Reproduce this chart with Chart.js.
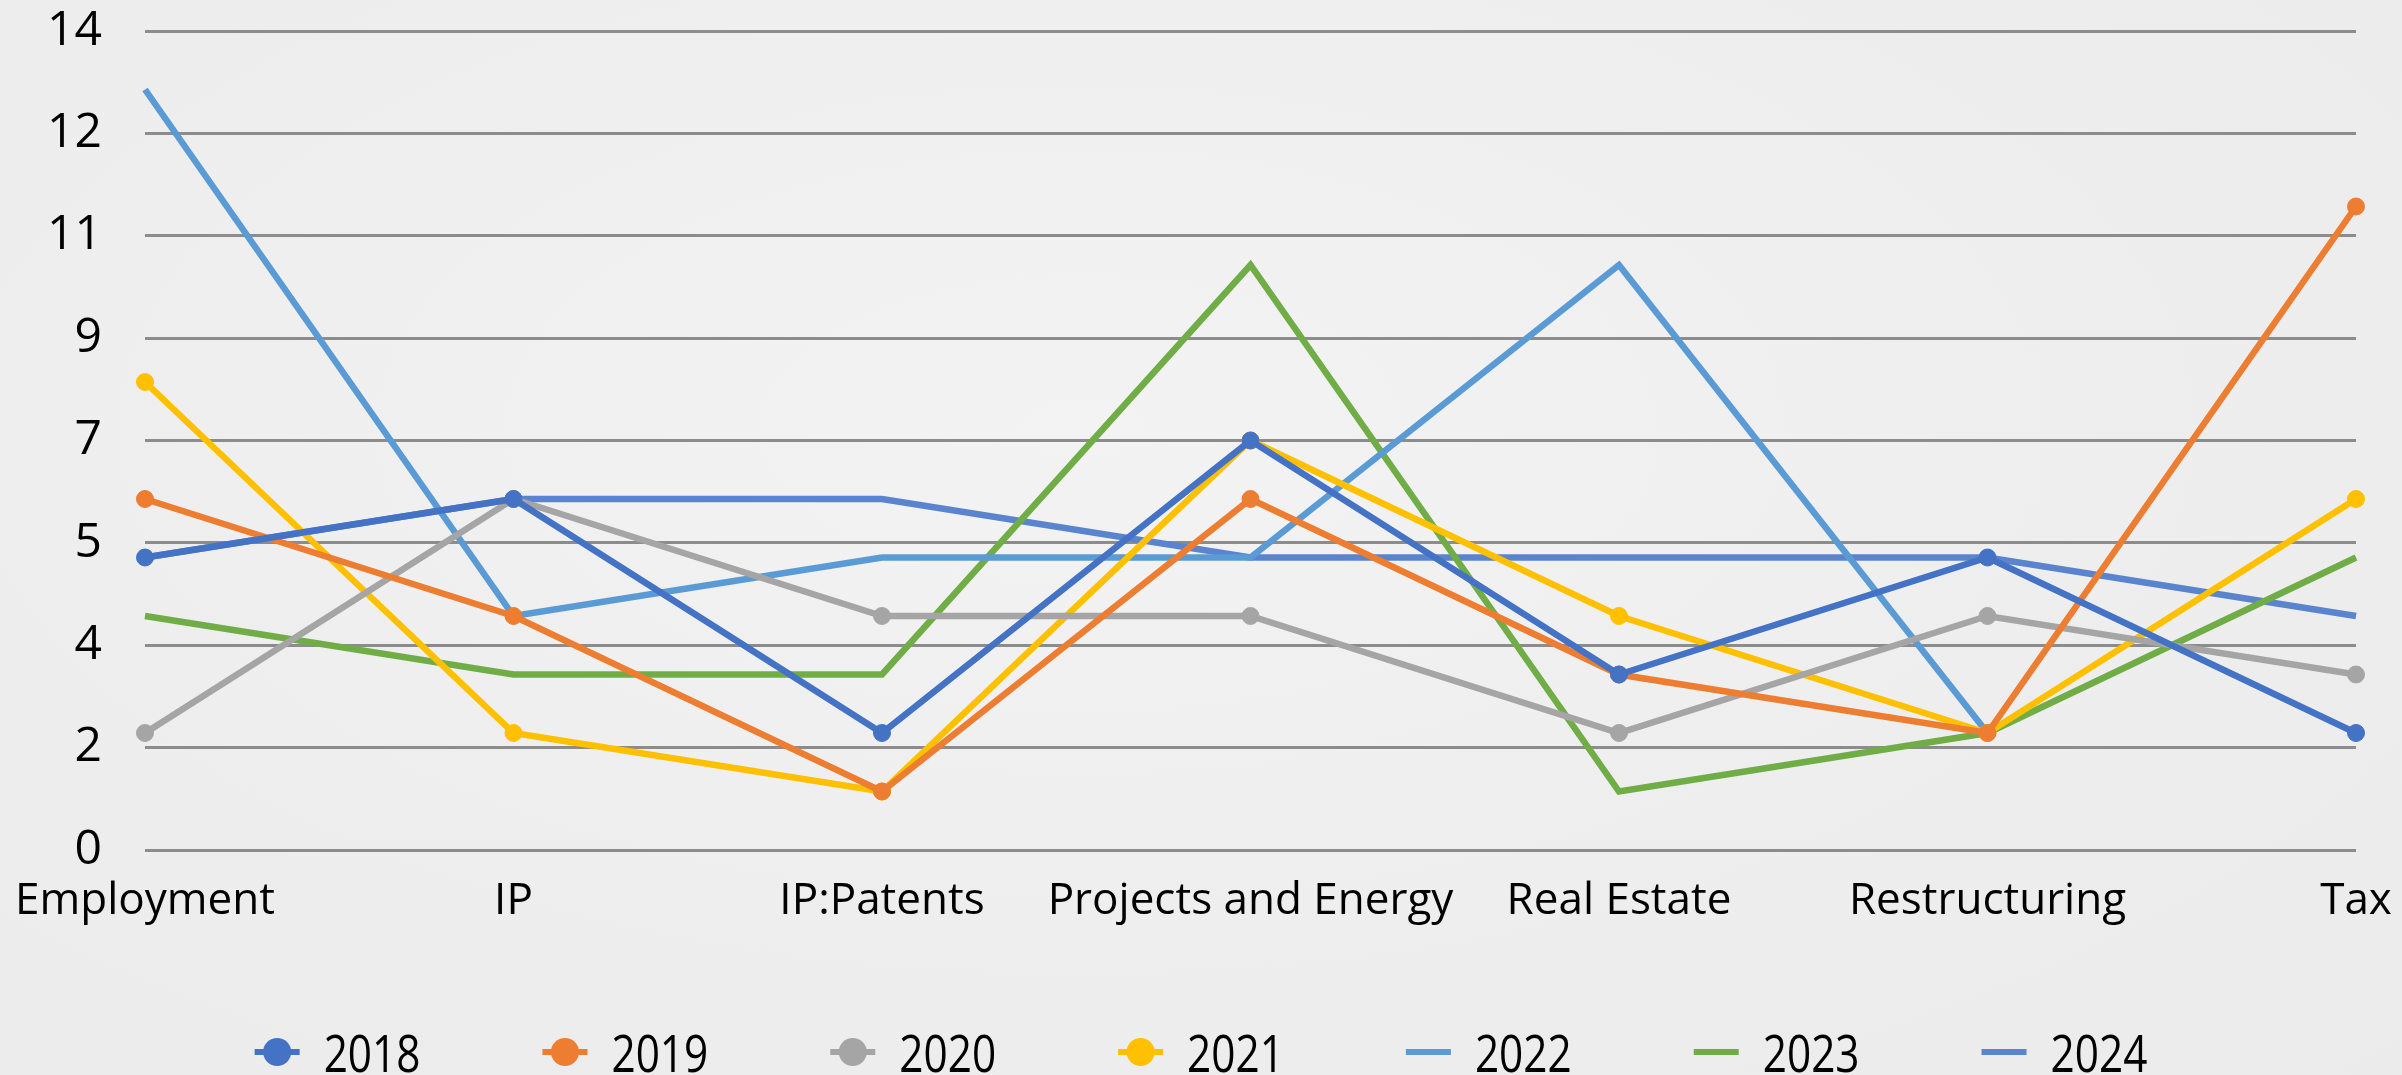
<!DOCTYPE html>
<html>
<head>
<meta charset="utf-8">
<script src="https://cdn.jsdelivr.net/npm/chart.js@4.4.1/dist/chart.umd.min.js"></script>
<style>
  html, body { margin: 0; padding: 0; }
  body {
    width: 2402px; height: 1075px; overflow: hidden;
    background: radial-gradient(ellipse at 45% 40%, #f3f3f3 0%, #eeeeee 55%, #ebebeb 100%);
  }
  canvas { display: block; }
</style>
</head>
<body>
<canvas id="chart" width="2402" height="1075"></canvas>
<script>
// categories along the x axis
const categories = ["Employment", "IP", "IP:Patents", "Projects and Energy", "Real Estate", "Restructuring", "Tax"];

// one array per year
const y2018 = [5, 6, 2, 7, 3, 5, 2];
const y2019 = [6, 4, 1, 6, 3, 2, 11];
const y2020 = [2, 6, 4, 4, 2, 4, 3];
const y2021 = [8, 2, 1, 7, 4, 2, 6];
const y2022 = [13, 4, 5, 5, 10, 2, null];
const y2023 = [4, 3, 3, 10, 1, 2, 5];
const y2024 = [5, 6, 6, 5, 5, 5, 4];

// y axis runs 0..14 in eight steps, labels shown rounded
const yMax = 14;
const yStep = 1.75;

const FONT = "'Open Sans', Lato, sans-serif";

function series(label, data, color, markers) {
    return {
        label: label,
        data: data,
        borderColor: color,
        backgroundColor: color,
        borderWidth: 6.5,
        pointRadius: markers ? 8.5 : 0,
        pointHoverRadius: markers ? 8.5 : 0,
        pointBorderWidth: 1,
        pointBackgroundColor: color,
        pointBorderColor: color,
        tension: 0,
        spanGaps: false,
    };
}

// legend drawn by hand: short line with a dot, like the office legend
const bottomLegend = {
    id: "bottomLegend",
    afterDraw(chart) {
        const ctx = chart.ctx;
        const sets = chart.data.datasets;
        const lineW = 45, gapText = 24, gapItem = 122;
        const squeeze = 0.83;           // legend digits are narrower than the axis font
        const midY = chart.height - 23;
        const baseY = chart.height - 3;
        ctx.save();
        ctx.font = "51px " + FONT;
        const widths = sets.map(ds => lineW + gapText + ctx.measureText(ds.label).width * squeeze);
        const total = widths.reduce((a, b) => a + b, 0) + gapItem * (sets.length - 1);
        let x = (chart.width - total) / 2;
        sets.forEach((ds, i) => {
            ctx.strokeStyle = ds.borderColor;
            ctx.lineWidth = 6;
            ctx.beginPath();
            ctx.moveTo(x, midY);
            ctx.lineTo(x + lineW, midY);
            ctx.stroke();
            if (ds.pointRadius > 0) {
                ctx.fillStyle = ds.borderColor;
                ctx.beginPath();
                ctx.arc(x + lineW / 2, midY, 14, 0, Math.PI * 2);
                ctx.fill();
            }
            ctx.save();
            ctx.translate(x + lineW + gapText, baseY);
            ctx.scale(squeeze, 1);
            ctx.fillStyle = "#000";
            ctx.textAlign = "left";
            ctx.textBaseline = "alphabetic";
            ctx.fillText(ds.label, 0, 0);
            ctx.restore();
            x += widths[i] + gapItem;
        });
        ctx.restore();
    }
};

function draw() {
    new Chart(document.getElementById("chart"), {
        type: "line",
        data: {
            labels: categories,
            datasets: [
                series("2018", y2018, "#4472C4", true),
                series("2019", y2019, "#ED7D31", true),
                series("2020", y2020, "#A5A5A5", true),
                series("2021", y2021, "#FFC000", true),
                series("2022", y2022, "#5B9BD5", false),
                series("2023", y2023, "#70AD47", false),
                series("2024", y2024, "#5A84CE", false),
            ],
        },
        options: {
            responsive: false,
            animation: false,
            devicePixelRatio: 1,
            layout: {
                autoPadding: false,
                padding: { top: 31, right: 46, bottom: 147, left: 0 },
            },
            plugins: {
                legend: { display: false },
                tooltip: { enabled: false },
            },
            scales: {
                x: {
                    offset: false,
                    afterFit(scale) {
                        scale.height = 78;
                        // first/last labels may hang over the plot edges, like the original
                        scale.paddingLeft = 0;
                        scale.paddingRight = 0;
                    },
                    grid: { display: false, drawTicks: false },
                    border: { display: false },
                    ticks: {
                        color: "#000",
                        font: { family: FONT, size: 44 },
                        padding: 25,
                        maxRotation: 0,
                        autoSkip: false,
                    },
                },
                y: {
                    min: 0,
                    max: yMax,
                    afterFit(scale) {
                        scale.width = 145;
                        scale.paddingTop = 0;
                        scale.paddingBottom = 0;
                    },
                    grid: { color: "#8c8c8c", lineWidth: 3, drawTicks: false },
                    border: { display: false },
                    ticks: {
                        stepSize: yStep,
                        color: "#000",
                        font: { family: FONT, size: 48 },
                        padding: 43,
                        callback: v => Math.round(v),
                    },
                },
            },
        },
        plugins: [bottomLegend],
    });
}

document.fonts.load("48px 'Open Sans'").then(draw, draw);
</script>
</body>
</html>
